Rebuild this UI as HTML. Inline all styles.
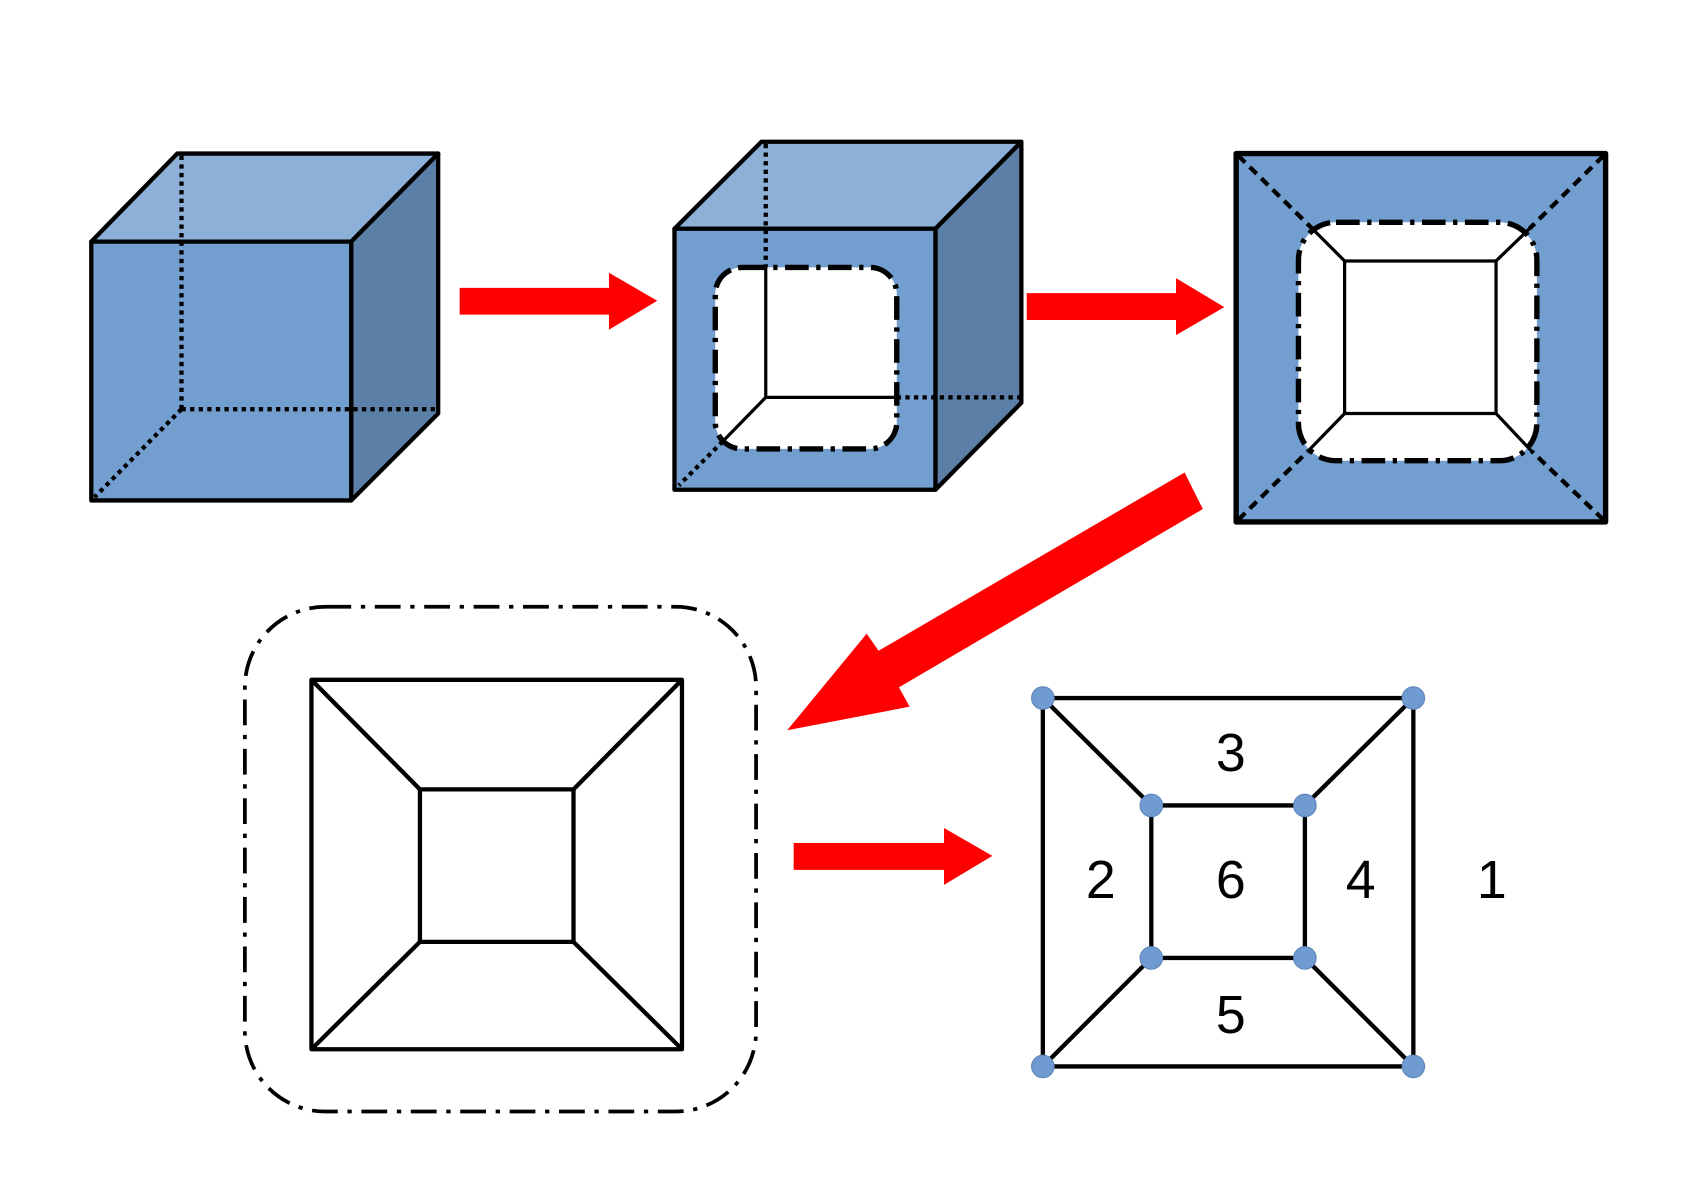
<!DOCTYPE html>
<html><head><meta charset="utf-8"><style>
html,body{margin:0;padding:0;background:#fff;}
svg{display:block;}
</style></head><body>
<svg width="1684" height="1191" viewBox="0 0 1568 1109" preserveAspectRatio="none" xmlns="http://www.w3.org/2000/svg">
<rect width="1568" height="1109" fill="#fff"/>
<g stroke="#000" stroke-linejoin="round">
<!-- Cube 1 -->
<polygon points="85,225 165,143 408,143 327,225" fill="#8db0d9" stroke-width="4"/>
<polygon points="327,225 408,143 408,385 327,466" fill="#5b7fa6" stroke-width="4"/>
<rect x="85" y="225" width="242" height="241" fill="#729fcf" stroke-width="4"/>
<g stroke-width="4" stroke-dasharray="4,4" fill="none">
<line x1="169" y1="145" x2="169" y2="381"/>
<line x1="169" y1="381" x2="408" y2="381"/>
<line x1="169" y1="381" x2="88" y2="463"/>
</g>
<!-- Arrow 1 -->
<polygon points="428,268 567,268 567,254 612,280 567,307 567,293 428,293" fill="#ff0000" stroke="none"/>
<!-- Cube 2 -->
<polygon points="628,213 709,132 951,132 871,213" fill="#8db0d9" stroke-width="4"/>
<polygon points="871,213 951,132 951,375 871,456" fill="#5b7fa6" stroke-width="4"/>
<rect x="628" y="213" width="243" height="243" fill="#729fcf" stroke-width="4"/>
<rect x="666" y="249" width="169" height="169" rx="25" fill="#fff" stroke="none"/>
<g stroke-width="4" fill="none">
<line x1="713" y1="134" x2="713" y2="249" stroke-dasharray="4,4"/>
<line x1="713" y1="249" x2="713" y2="370" stroke-width="3"/>
<line x1="713" y1="370" x2="835" y2="370" stroke-width="3"/>
<line x1="835" y1="370" x2="951" y2="370" stroke-dasharray="4,4"/>
<line x1="713" y1="370" x2="673" y2="411" stroke-width="3"/>
<line x1="673" y1="411" x2="632" y2="452" stroke-dasharray="4,4"/>
<rect x="666" y="249" width="169" height="169" rx="25" stroke-width="5" stroke-dasharray="22,7,4,7"/>
</g>
<!-- Arrow 2 -->
<polygon points="956,273 1095,273 1095,259 1140,286 1095,312 1095,298 956,298" fill="#ff0000" stroke="none"/>
<!-- Panel 3 -->
<rect x="1151" y="143" width="344" height="343" fill="#729fcf" stroke-width="5"/>
<rect x="1209" y="207" width="222" height="222" rx="35" fill="#fff" stroke="none"/>
<g fill="none" stroke-width="4">
<line x1="1153" y1="145" x2="1222" y2="213" stroke-dasharray="9,6"/>
<line x1="1493" y1="145" x2="1424" y2="213" stroke-dasharray="9,6"/>
<line x1="1153" y1="484" x2="1218" y2="420" stroke-dasharray="9,6"/>
<line x1="1493" y1="484" x2="1426" y2="420" stroke-dasharray="9,6"/>
<line x1="1222" y1="213" x2="1252" y2="243" stroke-width="3"/>
<line x1="1424" y1="213" x2="1393" y2="243" stroke-width="3"/>
<line x1="1218" y1="420" x2="1252" y2="385" stroke-width="3"/>
<line x1="1426" y1="420" x2="1393" y2="385" stroke-width="3"/>
<rect x="1252" y="243" width="141" height="142" stroke-width="3"/>
<rect x="1209" y="207" width="222" height="222" rx="35" stroke-width="5" stroke-dasharray="22,7,4,7"/>
</g>
<!-- Diagonal arrow -->
<polygon points="1103,440 1120,474 837,640 847,658 733,680 807,590 818,606" fill="#ff0000" stroke="none"/>
<!-- Bottom left -->
<rect x="228" y="565" width="476" height="470" rx="75" fill="none" stroke-width="3.5" stroke-dasharray="24,9,4,9"/>
<g fill="none" stroke-width="4">
<rect x="290" y="633" width="345" height="344"/>
<rect x="391" y="735" width="143" height="142"/>
<line x1="290" y1="633" x2="391" y2="735"/>
<line x1="635" y1="633" x2="534" y2="735"/>
<line x1="290" y1="977" x2="391" y2="877"/>
<line x1="635" y1="977" x2="534" y2="877"/>
</g>
<!-- Arrow 4 -->
<polygon points="739,785 879,785 879,771 924,797 879,824 879,810 739,810" fill="#ff0000" stroke="none"/>
<!-- Graph -->
<g fill="none" stroke-width="4">
<rect x="971" y="650" width="345" height="343"/>
<rect x="1072" y="750" width="143" height="142"/>
<line x1="971" y1="650" x2="1072" y2="750"/>
<line x1="1316" y1="650" x2="1215" y2="750"/>
<line x1="971" y1="993" x2="1072" y2="892"/>
<line x1="1316" y1="993" x2="1215" y2="892"/>
</g>
<g fill="#6f9bd0" stroke="#5a86bb" stroke-width="1">
<circle cx="971" cy="650" r="10.5"/><circle cx="1316" cy="650" r="10.5"/>
<circle cx="971" cy="993" r="10.5"/><circle cx="1316" cy="993" r="10.5"/>
<circle cx="1072" cy="750" r="10.5"/><circle cx="1215" cy="750" r="10.5"/>
<circle cx="1072" cy="892" r="10.5"/><circle cx="1215" cy="892" r="10.5"/>
</g>
</g>
<g font-family="Liberation Sans, sans-serif" font-size="50" fill="#000" text-anchor="middle">
<text x="1146" y="718">3</text>
<text x="1025" y="836">2</text>
<text x="1146" y="836">6</text>
<text x="1267" y="836">4</text>
<text x="1389" y="836">1</text>
<text x="1146" y="962">5</text>
</g>
</svg>
</body></html>
